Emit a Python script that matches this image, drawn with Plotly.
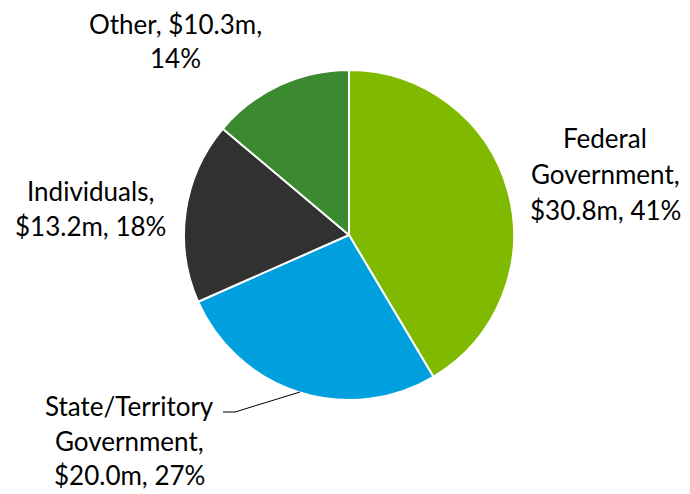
import plotly.graph_objects as go

categories = ["Federal Government", "State/Territory Government", "Individuals", "Other"]
values_m = [30.8, 20.0, 13.2, 10.3]
colors = ["#80BA00", "#00A0DF", "#313131", "#3C8A2F"]

total = sum(values_m)
pcts = [round(v / total * 100) for v in values_m]

W, H = 690, 494

def px(x):
    return x / W

def py(y):
    return (H - y) / H

fig = go.Figure(go.Pie(
    labels=categories,
    values=values_m,
    sort=False,
    direction="clockwise",
    rotation=0,
    marker=dict(colors=colors, line=dict(color="white", width=2)),
    textinfo="none",
    hoverinfo="label+value+percent",
    domain=dict(x=[px(184), px(514)], y=[py(400), py(70)]),
    showlegend=False,
))

lab = {c: (v, p) for c, v, p in zip(categories, values_m, pcts)}
def money(c):
    return f"${lab[c][0]:.1f}m"
def pct(c):
    return f"{lab[c][1]}%"

label_lines = [
    (605, ["Federal", "Government,", f"{money('Federal Government')}, {pct('Federal Government')}"], [138, 174, 210]),
    (175, [f"Other, {money('Other')},", pct("Other")], [24, 58]),
    (90, ["Individuals,", f"{money('Individuals')}, {pct('Individuals')}"], [191, 226]),
    (129, ["State/Territory", "Government,", f"{money('State/Territory Government')}, {pct('State/Territory Government')}"], [406, 441, 475]),
]

annotations = []
for xc, lines, ys in label_lines:
    for t, y in zip(lines, ys):
        annotations.append(dict(
            text=t, x=px(xc), y=py(y), xref="paper", yref="paper",
            xanchor="center", yanchor="middle", showarrow=False,
            font=dict(family="Lato", size=26, color="#000000"),
        ))

fig.update_layout(
    width=W, height=H,
    margin=dict(l=0, r=0, t=0, b=0),
    paper_bgcolor="white",
    plot_bgcolor="white",
    annotations=annotations,
    shapes=[dict(
        type="path", xref="paper", yref="paper",
        path=f"M {px(223)} {py(412)} L {px(235)} {py(412)} L {px(300)} {py(392)}",
        line=dict(color="black", width=1),
    )],
)

fig.write_html(
    "out.html",
    config={"displayModeBar": False},
    post_script="document.body.style.margin='0px';document.body.style.overflow='hidden';",
)
